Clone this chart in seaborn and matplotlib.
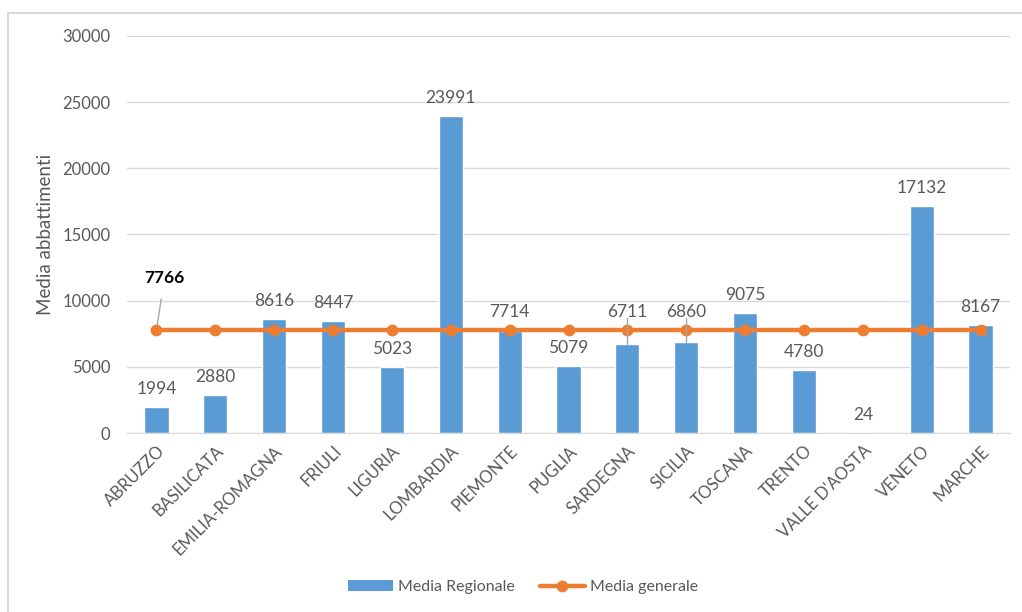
import numpy as np
import pandas as pd
import matplotlib
matplotlib.use('Agg')
import matplotlib.pyplot as plt
from matplotlib.lines import Line2D
from matplotlib.patches import Patch
import seaborn as sns

regioni = ['ABRUZZO', 'BASILICATA', 'EMILIA-ROMAGNA', 'FRIULI', 'LIGURIA', 'LOMBARDIA',
           'PIEMONTE', 'PUGLIA', 'SARDEGNA', 'SICILIA', 'TOSCANA', 'TRENTO',
           "VALLE D'AOSTA", 'VENETO', 'MARCHE']
media_regionale = [1994, 2880, 8616, 8447, 5023, 23991, 7714, 5079, 6711, 6860,
                   9075, 4780, 24, 17132, 8167]
media_generale = 7766
# labels that sit above the orange line instead of above the bar
sopra_linea = ['PIEMONTE', 'SARDEGNA', 'SICILIA']
con_guida = ['SARDEGNA', 'SICILIA']

df = pd.DataFrame({'regione': regioni, 'media': media_regionale})
df['generale'] = media_generale

blue = '#5B9BD5'
orange = '#ED7D31'
grey = '#595959'

sns.set_style('white')
plt.rcParams['font.family'] = ['Lato', 'DejaVu Sans']

fig = plt.figure(figsize=(10.22, 6.12), dpi=100)
ax = fig.add_axes([127 / 1022, 1 - 433 / 612, (1010 - 127) / 1022, (433 - 36) / 612])

sns.barplot(data=df, x='regione', y='media', color=blue, width=0.41,
            saturation=1, ax=ax, zorder=2)
sns.lineplot(data=df, x='regione', y='generale', color=orange, linewidth=3.2,
             marker='o', markersize=8.5, markeredgewidth=0, ax=ax, zorder=3,
             sort=False)

ax.set_xlim(-0.5, len(regioni) - 0.5)
ax.set_ylim(0, 30000)
ax.set_yticks(np.arange(0, 30001, 5000))
ax.yaxis.grid(True, color='#D9D9D9', linewidth=1)
ax.set_axisbelow(True)
for s in ['top', 'right', 'left']:
    ax.spines[s].set_visible(False)
ax.spines['bottom'].set_color('#D9D9D9')
ax.tick_params(axis='both', length=0, labelsize=12, labelcolor=grey)
ax.tick_params(axis='y', pad=12)
ax.set_xticks(range(len(regioni)))
ax.set_xticklabels(regioni, rotation=45, ha='right', rotation_mode='anchor', fontsize=12)
ax.tick_params(axis='x', pad=7)
ax.set_xlabel('')
ax.set_ylabel('Media abbattimenti', fontsize=13.5, color=grey, labelpad=6)

for i, (reg, v) in enumerate(zip(regioni, media_regionale)):
    base = media_generale if reg in sopra_linea else v
    ax.annotate(str(v), (i, base), xytext=(0, 10), textcoords='offset pixels',
                ha='center', va='bottom', fontsize=12.5, color=grey)
    if reg in con_guida:
        ax.plot([i, i], [v, media_generale + 900], color='#A6A6A6', lw=1, zorder=4)

ax.annotate(str(media_generale), (0, media_generale), xytext=(8, 52),
            textcoords='offset pixels', ha='center', va='center',
            fontsize=12.5, fontweight='bold', color='black',
            arrowprops=dict(arrowstyle='-', color='#A6A6A6', lw=1,
                            shrinkA=7, shrinkB=4))

handles = [Patch(facecolor=blue, edgecolor='none'),
           Line2D([], [], color=orange, lw=3.2, marker='o', markersize=8.5,
                  markeredgewidth=0)]
fig.legend(handles, ['Media Regionale', 'Media generale'], loc='center',
           bbox_to_anchor=(523 / 1022, 1 - 587 / 612), ncol=2, frameon=False,
           fontsize=11.5, labelcolor=grey, handlelength=2.8, handletextpad=0.3,
           columnspacing=1.6)

# chart frame (only left and top edges are visible in the crop)
fx = 7.5 / 1022
fy = 1 - 13 / 612
fig.add_artist(Line2D([fx, fx, 1], [0, fy, fy], color='#D9D9D9', lw=1.5,
                      transform=fig.transFigure))

fig.savefig('out.png', dpi=100)
